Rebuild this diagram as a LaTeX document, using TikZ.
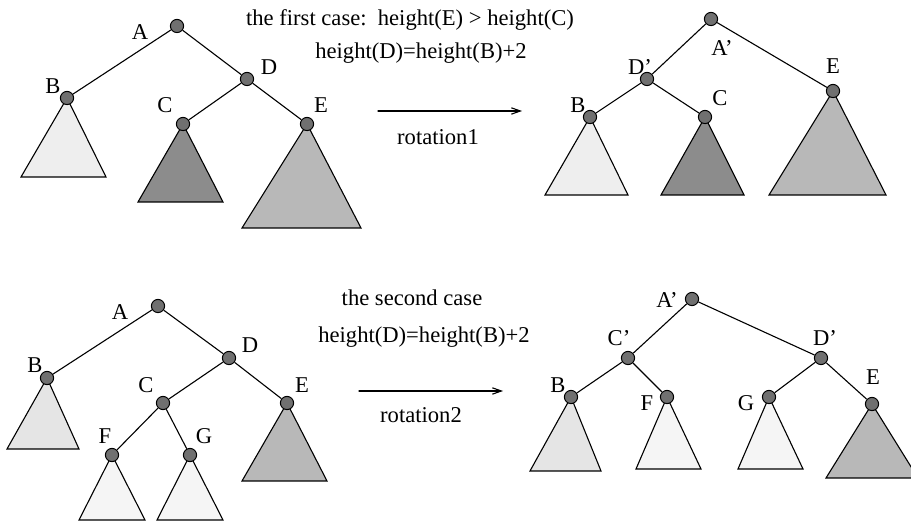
\documentclass[tikz,border=0pt]{standalone}
\usepackage{fontspec}
\setmainfont{Liberation Serif}
\usetikzlibrary{calc,backgrounds,arrows.meta}

\definecolor{knotgray}{HTML}{707070}
\definecolor{paleA}{HTML}{EEEEEE}
\definecolor{paleB}{HTML}{E5E5E5}
\definecolor{paleC}{HTML}{F5F5F5}
\definecolor{midgray}{HTML}{B8B8B8}
\definecolor{darkgray}{HTML}{8C8C8C}

% 子树三角形：顶点节点, 左x, 右x, 底y, 填充色
\newcommand{\subtree}[5]{\draw[sub, fill=#5] (#1.center) -- (#2,#4) -- (#3,#4) -- cycle;}

\begin{document}
\begin{tikzpicture}[x=0.5pt, y=-0.5pt, line cap=round, line join=round,
	knot/.style={circle, draw=black, fill=knotgray, line width=0.5pt, inner sep=0pt, minimum size=6.6pt},
	tag/.style={font=\fontsize{11.3}{13}\selectfont, inner sep=0pt},
	edge/.style={line width=0.55pt},
	sub/.style={draw=black, line width=0.55pt}]
	
	\useasboundingbox (0,0) rectangle (911,522);
	
	%====================
	% 1) 第一种情况：旋转前
	%====================
	\node[knot] (A) at (177,26)  {};
	\node[knot] (B) at (67,98)   {};
	\node[knot] (D) at (247,79)  {};
	\node[knot] (C) at (183,124) {};
	\node[knot] (E) at (307,124) {};
	
	\node[tag] (lA) at (140,32)  {A};
	\node[tag] (lB) at (53,86)   {B};
	\node[tag] (lD) at (269,67)  {D};
	\node[tag] (lC) at (165,105) {C};
	\node[tag] (lE) at (321,105) {E};
	
	\begin{scope}[on background layer]
		\draw[edge] (A) -- (B);
		\draw[edge] (A) -- (D);
		\draw[edge] (D) -- (C);
		\draw[edge] (D) -- (E);
		\subtree{B}{21}{106}{177}{paleA}
		\subtree{C}{138}{223}{202}{darkgray}
		\subtree{E}{242}{361}{228}{midgray}
	\end{scope}
	
	%====================
	% 2) 第一种情况：旋转后
	%====================
	\node[knot] (Ar) at (711,19)  {};
	\node[knot] (Dr) at (647,79)  {};
	\node[knot] (Br) at (590,117) {};
	\node[knot] (Cr) at (705,117) {};
	\node[knot] (Er) at (833,91)  {};
	
	\node[tag] (lAr) at (722,48)  {A'};
	\node[tag] (lDr) at (640,67)  {D'};
	\node[tag] (lBr) at (578,105) {B};
	\node[tag] (lCr) at (720,98)  {C};
	\node[tag] (lEr) at (833,66)  {E};
	
	\begin{scope}[on background layer]
		\draw[edge] (Ar) -- (Dr);
		\draw[edge] (Ar) -- (Er);
		\draw[edge] (Dr) -- (Br);
		\draw[edge] (Dr) -- (Cr);
		\subtree{Br}{545}{628}{195}{paleA}
		\subtree{Cr}{661}{744}{195}{darkgray}
		\subtree{Er}{769}{886}{195}{midgray}
	\end{scope}
	
	% 说明文字与箭头
	\node[tag] (case1) at (410,20) {the first case:\ \ height(E) > height(C)};
	\node[tag] (cond1) at (421,53) {height(D)=height(B)+2};
	\coordinate (r1s) at (378,111);
	\coordinate (r1e) at (522,111);
	\draw[edge, -{Straight Barb[length=4.5pt, width=3.2pt]}] (r1s) -- (r1e);
	\node[tag] (rot1) at (438,137) {rotation1};
	
	%====================
	% 3) 第二种情况：旋转前
	%====================
	\node[knot] (A2) at (158,306) {};
	\node[knot] (B2) at (47,378)  {};
	\node[knot] (D2) at (229,358) {};
	\node[knot] (C2) at (163,403) {};
	\node[knot] (E2) at (287,403) {};
	\node[knot] (F2) at (112,455) {};
	\node[knot] (G2) at (190,455) {};
	
	\node[tag] (lA2) at (120,312) {A};
	\node[tag] (lB2) at (35,365)  {B};
	\node[tag] (lD2) at (250,345) {D};
	\node[tag] (lC2) at (146,385) {C};
	\node[tag] (lE2) at (302,385) {E};
	\node[tag] (lF2) at (105,436) {F};
	\node[tag] (lG2) at (204,436) {G};
	
	\begin{scope}[on background layer]
		\draw[edge] (A2) -- (B2);
		\draw[edge] (A2) -- (D2);
		\draw[edge] (D2) -- (C2);
		\draw[edge] (D2) -- (E2);
		\draw[edge] (C2) -- (F2);
		\draw[edge] (C2) -- (G2);
		\subtree{B2}{7}{79}{449}{paleB}
		\subtree{E2}{242}{327}{481}{midgray}
		\subtree{F2}{79}{145}{520}{paleC}
		\subtree{G2}{157}{223}{520}{paleC}
	\end{scope}
	
	%====================
	% 4) 第二种情况：旋转后
	%====================
	\node[knot] (A2r) at (692,299) {};
	\node[knot] (C2r) at (628,358) {};
	\node[knot] (D2r) at (821,358) {};
	\node[knot] (B2r) at (571,397) {};
	\node[knot] (F2r) at (667,397) {};
	\node[knot] (G2r) at (769,397) {};
	\node[knot] (E2r) at (872,404) {};
	
	\node[tag] (lA2r) at (667,300) {A'};
	\node[tag] (lC2r) at (619,338) {C'};
	\node[tag] (lD2r) at (825,338) {D'};
	\node[tag] (lB2r) at (558,385) {B};
	\node[tag] (lF2r) at (647,403) {F};
	\node[tag] (lG2r) at (746,403) {G};
	\node[tag] (lE2r) at (873,377) {E};
	
	\begin{scope}[on background layer]
		\draw[edge] (A2r) -- (C2r);
		\draw[edge] (A2r) -- (D2r);
		\draw[edge] (C2r) -- (B2r);
		\draw[edge] (C2r) -- (F2r);
		\draw[edge] (D2r) -- (G2r);
		\draw[edge] (D2r) -- (E2r);
		\subtree{B2r}{530}{601}{471}{paleB}
		\subtree{F2r}{636}{701}{469}{paleC}
		\subtree{G2r}{738}{803}{469}{paleC}
		\subtree{E2r}{826}{918}{478}{midgray}
	\end{scope}
	
	% 说明文字与箭头
	\node[tag] (case2) at (412,298) {the second case};
	\node[tag] (cond2) at (424,337) {height(D)=height(B)+2};
	\coordinate (r2s) at (359,391);
	\coordinate (r2e) at (503,391);
	\draw[edge, -{Straight Barb[length=4.5pt, width=3.2pt]}] (r2s) -- (r2e);
	\node[tag] (rot2) at (421,415) {rotation2};
	
\end{tikzpicture}
\end{document}
